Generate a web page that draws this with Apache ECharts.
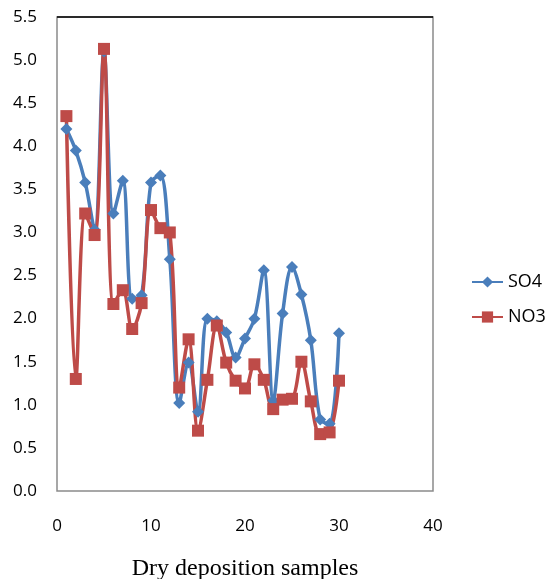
<!DOCTYPE html>
<html><head><meta charset="utf-8">
<script src="https://cdn.jsdelivr.net/npm/echarts@6/dist/echarts.min.js"></script>
<style>html,body{margin:0;padding:0;background:#fff}#c{width:547px;height:579px}</style>
</head><body><div id="c"></div>
<script>
const samples = [1,2,3,4,5,6,7,8,9,10,11,12,13,14,15,16,17,18,19,20,21,22,23,24,25,26,27,28,29,30];
const so4 = [4.2,3.95,3.58,3.03,5.1,3.22,3.6,2.23,2.27,3.58,3.66,2.69,1.02,1.49,0.92,2.0,1.97,1.84,1.55,1.77,2.0,2.56,1.05,2.06,2.6,2.28,1.75,0.83,0.78,1.83];
const no3 = [4.35,1.3,3.22,2.97,5.13,2.17,2.33,1.88,2.18,3.26,3.05,3.0,1.2,1.76,0.7,1.29,1.92,1.49,1.28,1.19,1.47,1.29,0.95,1.06,1.07,1.5,1.04,0.66,0.68,1.28];
const seriesNames = ['SO4','NO3'];
const xTitle = 'Dry deposition samples';

const chart = echarts.init(document.getElementById('c'));
const lab = {fontFamily:'Open Sans, Liberation Sans, sans-serif', fontSize:17, color:'#000'};
const splitColors = []; for(let i=0;i<11;i++) splitColors.push('rgba(0,0,0,0)'); splitColors.push('#000');
chart.setOption({
  animation:false,
  grid:{left:57,right:114,top:17,bottom:88,show:true,borderColor:'#8a8a8a',borderWidth:1.5,
    containLabel:false,outerBoundsMode:'none'},
  legend:{orient:'vertical',left:466,top:268,itemGap:17,itemWidth:31,itemHeight:14,
    textStyle:{fontFamily:'Open Sans, Liberation Sans, sans-serif',fontSize:18,color:'#000'},
    data:seriesNames},
  xAxis:{type:'value',min:0,max:40,interval:10,
    axisLine:{show:false},axisTick:{show:false},splitLine:{show:false},
    axisLabel:Object.assign({margin:27},lab),
    name:xTitle,nameLocation:'middle',nameGap:66,
    nameTextStyle:{fontFamily:'Liberation Serif, Times New Roman, serif',fontSize:24,color:'#000'}},
  yAxis:{type:'value',min:0,max:5.5,interval:0.5,
    axisLine:{show:false},axisTick:{show:false},
    splitLine:{show:true,lineStyle:{color:splitColors,width:1.5}},
    axisLabel:Object.assign({margin:20,formatter:v=>v.toFixed(1)},lab)},
  series:[
    {name:seriesNames[0],type:'line',smooth:0.35,symbol:'diamond',symbolSize:12,
      lineStyle:{color:'#4A7EBB',width:3.5},itemStyle:{color:'#4A7EBB'},
      data:samples.map((s,i)=>[s,so4[i]])},
    {name:seriesNames[1],type:'line',smooth:0.35,symbol:'rect',symbolSize:12,
      lineStyle:{color:'#BE4B48',width:3.5},itemStyle:{color:'#BE4B48'},
      data:samples.map((s,i)=>[s,no3[i]])}
  ]
});
</script></body></html>
